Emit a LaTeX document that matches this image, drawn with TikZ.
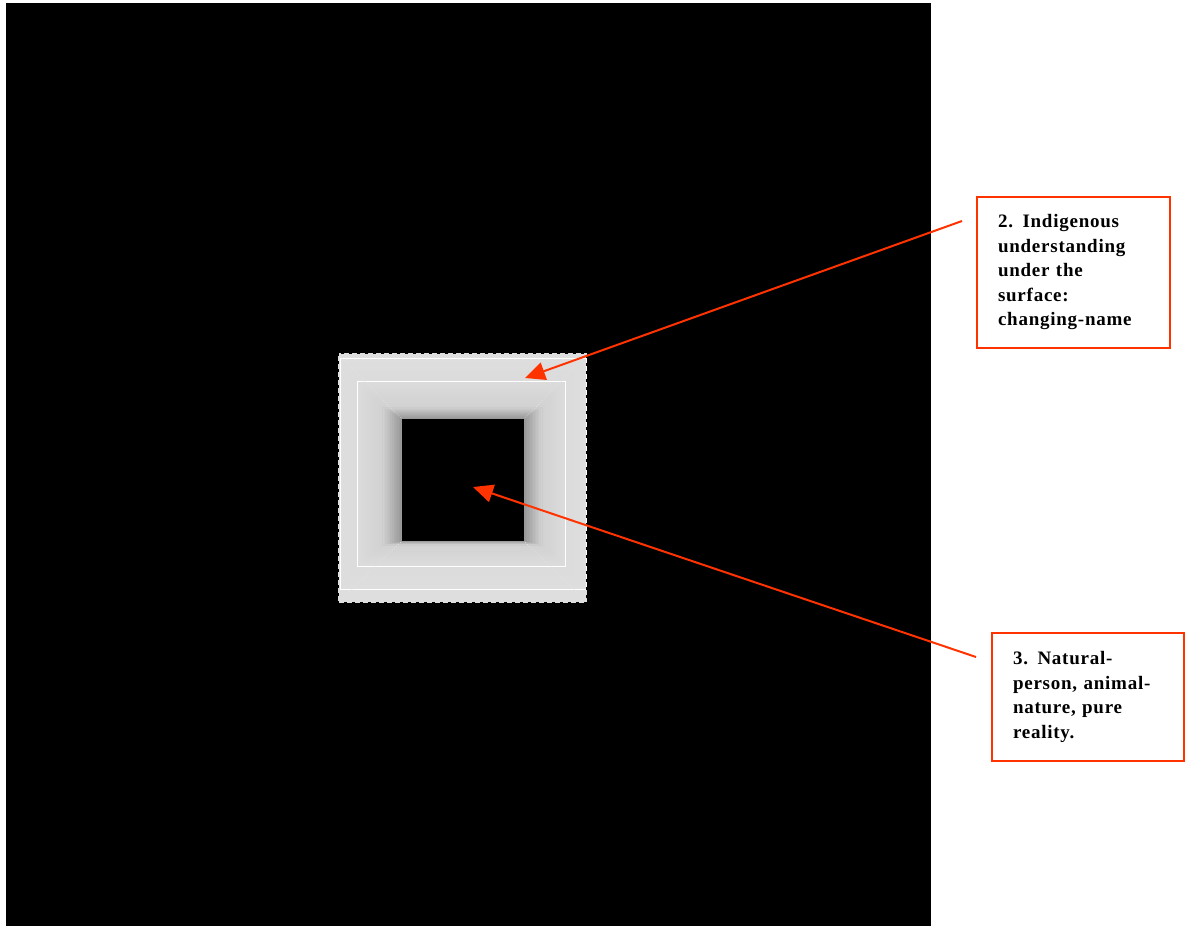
\documentclass[tikz,border=0pt]{standalone}
\usepackage{fontspec}
\setmainfont{Liberation Serif}
\usetikzlibrary{arrows.meta}
\definecolor{notered}{RGB}{255,51,0}

\begin{document}
\begin{tikzpicture}[x=1pt, y=-1pt,
        box/.style={draw=notered, line width=1.5pt, fill=white, align=left, inner sep=0pt,
            font=\fontsize{19}{24.5}\selectfont\bfseries\addfontfeatures{LetterSpace=4}},
        arrow/.style={-{Triangle[length=20pt, width=18pt]}, notered, line width=2pt},
        bevel/.style={white, line width=0.6pt}
    ]
        \useasboundingbox (0,0) rectangle (1186,926);
        \fill[white] (0,0) rectangle (1186,926);
        \fill[black] (6,3) rectangle (931,926);

        % bevelled frame, ring by ring
        \fill[black!13] (338,353) rectangle (587,603);
        \foreach \la/\ta/\ra/\ba/\lb/\tb/\rb/\bb/\pa/\pb in {
                340/358/586/589/357/381/565/566/13/14,
                357/381/565/566/382/407/542/545/14/18,
                382/407/542/545/402/419/524/541/18/42} {
            \foreach \k in {0,...,11} {
                \pgfmathsetmacro{\t}{\k/12}
                \pgfmathsetmacro{\p}{\pa+(\pb-\pa)*\t}
                \fill[black!\p] ({\la+(\lb-\la)*\t},{\ta+(\tb-\ta)*\t})
                    rectangle ({\ra+(\rb-\ra)*\t},{\ba+(\bb-\ba)*\t});
            }
        }
        \fill[black] (402,419) rectangle (524,541);
        \draw[bevel] (340,358) rectangle (586,589);
        \draw[bevel] (357,381) rectangle (565,566);
        \draw[white!60!gray, line width=0.4pt] (382,407) rectangle (542,545);
        \foreach \xa/\ya/\xb/\yb in {340/356/402/419, 586/356/524/419, 586/601/524/541, 340/601/402/541} {
            \draw[white!80!gray, line width=0.7pt, dotted] (\xa,\ya) -- (\xb,\yb);
        }
        \draw[black, line width=1.5pt, dash pattern=on 3pt off 5pt] (338,353) rectangle (587,603);

        % notes
        \node[box, minimum width=193pt, minimum height=151pt, text width=151pt] (indig) at (1073.5,272.5)
            {2. Indigenous\\understanding\\under the\\surface:\\changing-name};
        \node[box, minimum width=192pt, minimum height=128pt, text width=150pt] (natural) at (1088,697)
            {3. Natural-\\person, animal-\\nature, pure\\reality.};

        \coordinate (indigtail) at (962,221);
        \coordinate (indigtip) at (525,378);
        \coordinate (naturaltail) at (976,657);
        \coordinate (naturaltip) at (473,487);
        \draw[arrow] (indigtail) -- (indigtip);
        \draw[arrow] (naturaltail) -- (naturaltip);
    \end{tikzpicture}
\end{document}
